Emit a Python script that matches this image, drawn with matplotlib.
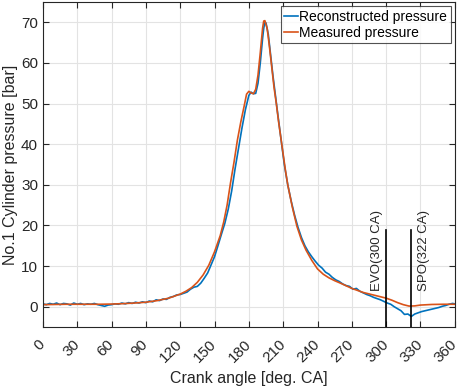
import matplotlib
matplotlib.use("Agg")
import matplotlib.pyplot as plt

plt.rcParams['font.family'] = ['Liberation Sans', 'DejaVu Sans']

# measured pressure (smooth)
ang_meas = [0, 10, 20, 30, 40, 50, 60, 70, 80, 90,
            100, 110, 120, 125, 130, 135, 140, 145, 150, 155,
            158, 161, 164, 167, 170, 173, 176, 178, 180, 182,
            184, 186, 188, 190, 192, 193, 194, 196, 198, 200,
            202, 204, 206, 209, 212, 214, 218, 222, 226, 230,
            235, 240, 245, 250, 255, 260, 270, 280, 290, 300,
            305, 310, 315, 320, 325, 330, 340, 350, 360]
p_meas = [0.5, 0.55, 0.6, 0.6, 0.6, 0.6, 0.65, 0.75, 0.9, 1.1,
          1.5, 2.1, 3.1, 3.8, 4.7, 6.0, 7.8, 10.2, 13.5, 17.5,
          20.8, 25.0, 30.5, 35.5, 41.0, 45.5, 49.5, 52.3, 53.0, 52.6,
          52.4, 53.5, 57.0, 62.5, 68.5, 70.3, 70.4, 68.5, 64.0, 59.0,
          54.0, 50.0, 45.5, 39.5, 33.5, 30.0, 24.5, 19.8, 16.4, 13.9,
          11.4, 9.3, 8.0, 7.1, 6.4, 5.8, 4.5, 3.5, 2.8, 2.1,
          1.6, 1.0, 0.5, 0.15, 0.2, 0.4, 0.55, 0.6, 0.6]

# reconstructed pressure (noisy)
ang_rec = [0, 3, 6, 9, 12, 15, 18, 21, 24, 27,
           30, 33, 36, 39, 42, 45, 48, 51, 54, 57,
           60, 63, 66, 69, 72, 75, 78, 81, 84, 87,
           90, 93, 96, 99, 102, 105, 108, 111, 114, 117,
           120, 123, 126, 129, 132, 135, 138, 141, 144, 147,
           150, 153, 156, 159, 162, 165, 168, 171, 174, 177,
           180, 182, 184, 186, 188, 190, 192, 193, 194, 195,
           197, 199, 201, 203, 205, 208, 211, 214, 217, 220,
           223, 226, 229, 232, 235, 238, 241, 244, 247, 250,
           253, 256, 259, 262, 265, 268, 271, 274, 277, 280,
           283, 286, 289, 292, 295, 298, 301, 304, 307, 310,
           313, 316, 319, 322, 325, 328, 331, 334, 337, 340,
           343, 346, 349, 352, 355, 358, 360]
p_rec = [0.7, 0.5, 0.8, 0.6, 0.9, 0.5, 0.8, 0.7, 0.4, 0.9,
         0.6, 0.8, 0.5, 0.7, 0.6, 0.8, 0.5, 0.3, 0.1, 0.4,
         0.5, 0.7, 0.6, 0.9, 0.7, 1.0, 0.8, 1.1, 0.9, 1.2,
         1.0, 1.4, 1.2, 1.7, 1.5, 1.9, 1.8, 2.3, 2.5, 2.9,
         3.0, 3.3, 3.6, 4.3, 4.8, 5.0, 5.8, 7.0, 8.3, 10.3,
         12.3, 15.0, 17.8, 20.5, 24.0, 28.5, 34.0, 39.0, 44.0, 48.5,
         52.0, 52.8, 52.4, 52.5, 55.0, 60.0, 66.0, 68.5, 70.0, 69.8,
         67.0, 62.0, 57.0, 52.5, 48.0, 41.5, 35.0, 30.0, 26.0, 22.5,
         19.5, 17.0, 15.0, 13.5, 12.3, 11.2, 10.2, 9.5, 8.5, 8.0,
         7.2, 6.6, 6.2, 5.6, 5.2, 5.0, 4.3, 4.5, 3.8, 3.4,
         3.0, 2.7, 2.3, 2.0, 1.7, 1.3, 0.9, 0.6, 0.0, -0.5,
         -1.0, -1.9, -1.8, -2.4, -1.8, -1.5, -1.2, -1.0, -0.8, -0.6,
         -0.4, -0.2, 0.1, 0.3, 0.6, 0.8, 0.7]

events = [300, 322]
event_labels = ['EVO(300 CA)', 'SPO(322 CA)']
xticks = list(range(0, 361, 30))
yticks = list(range(0, 71, 10))

fig = plt.figure(figsize=(4.66, 3.87), dpi=100)
ax = fig.add_axes([0.092, 0.155, 0.884, 0.84])

ax.plot(ang_rec, p_rec, color='#0072BD', lw=1.2, label='Reconstructed pressure')
ax.plot(ang_meas, p_meas, color='#D95319', lw=1.2, label='Measured pressure')

for xe, lab, dx in zip(events, event_labels, [-8, 11]):
    ax.plot([xe, xe], [-5, 18.8], color='black', lw=1.2)
    ax.text(xe + dx, 3.8, lab, rotation=90, ha='center', va='bottom', fontsize=9.5, color='#262626')

ax.set_xlim(0, 360)
ax.set_ylim(-5, 75)
ax.set_xticks(xticks)
ax.set_yticks(yticks)
ax.set_xticklabels([str(t) for t in xticks], rotation=45, ha='right', va='center',
                   rotation_mode='anchor')
ax.tick_params(direction='in', top=True, right=True, labelsize=11, colors='#262626', length=4)
ax.tick_params(axis='x', pad=11)
ax.grid(True, color='#e3e3e3', lw=0.8)
ax.set_axisbelow(True)
for s in ax.spines.values():
    s.set_color('#262626')

ax.set_xlabel('Crank angle [deg. CA]', fontsize=11.5, color='#262626')
ax.set_ylabel('No.1 Cylinder pressure [bar]', fontsize=11.5, color='#262626', labelpad=2)

leg = ax.legend(loc='upper right', fontsize=10, handlelength=1.0, handletextpad=0.1,
                borderaxespad=0.3, borderpad=0.25, labelspacing=0.15, fancybox=False)
leg.get_frame().set_edgecolor('#262626')
leg.get_frame().set_linewidth(0.8)

fig.savefig('out.png', dpi=100)
